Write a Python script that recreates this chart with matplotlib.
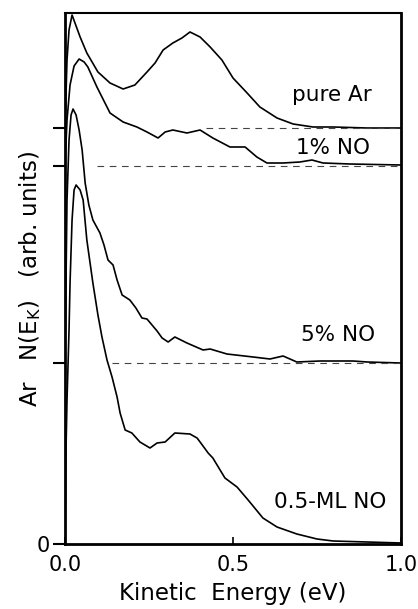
import numpy as np
import matplotlib
matplotlib.use("Agg")
import matplotlib.pyplot as plt

# ---- data (kinetic energy in eV, intensity above each curve's baseline, arb. units) ----
pure_ar_x = [0.0, 0.006, 0.012, 0.021, 0.045, 0.065, 0.098, 0.134, 0.173, 0.208, 0.244, 0.268,
             0.292, 0.321, 0.348, 0.372, 0.402, 0.432, 0.467, 0.5, 0.542, 0.58, 0.631, 0.679,
             0.738, 0.798, 0.899, 1.0]
pure_ar_y = [0, 68, 98, 113, 91, 75, 56, 45, 39, 43, 56, 65,
             78, 85, 90, 96, 91, 81, 68, 50, 35, 21, 10, 4,
             1, 1, 0, 0]

no1_x = [0.0, 0.006, 0.015, 0.027, 0.042, 0.057, 0.068, 0.095, 0.134, 0.173, 0.214, 0.244,
         0.277, 0.298, 0.321, 0.363, 0.402, 0.44, 0.491, 0.536, 0.571, 0.601, 0.649, 0.699,
         0.735, 0.768, 0.848, 1.0]
no1_y = [0, 46, 81, 100, 107, 104, 99, 79, 53, 44, 39, 34,
         28, 34, 36, 33, 36, 28, 19, 19, 9, 3, 3, 4,
         6, 3, 2, 1]

no5_x = [0.0, 0.006, 0.012, 0.018, 0.024, 0.033, 0.042, 0.051, 0.06, 0.071, 0.083, 0.104,
         0.116, 0.128, 0.143, 0.155, 0.17, 0.193, 0.211, 0.229, 0.244, 0.259, 0.274, 0.289,
         0.307, 0.327, 0.363, 0.411, 0.432, 0.482, 0.56, 0.61, 0.649, 0.69, 0.759, 0.857,
         0.899, 1.0]
no5_y = [0, 163, 223, 248, 254, 248, 233, 213, 180, 158, 143, 130,
         118, 103, 98, 83, 68, 63, 55, 45, 44, 38, 32, 25,
         21, 26, 20, 13, 14, 9, 6, 4, 7, 1, 2, 2,
         1, 0]

ml_x = [0.0, 0.003, 0.006, 0.012, 0.015, 0.021, 0.027, 0.033, 0.045, 0.054, 0.065, 0.083,
        0.098, 0.11, 0.125, 0.14, 0.155, 0.164, 0.179, 0.199, 0.223, 0.253, 0.274, 0.298,
        0.327, 0.372, 0.393, 0.402, 0.426, 0.44, 0.476, 0.512, 0.545, 0.589, 0.631, 0.69,
        0.75, 0.798, 0.899, 1.0]
ml_y = [0, 94, 144, 214, 261, 324, 354, 359, 354, 344, 304, 261,
        229, 207, 184, 167, 147, 131, 114, 111, 102, 96, 101, 102,
        111, 110, 106, 102, 91, 86, 66, 57, 44, 26, 17, 10,
        5, 3, 2, 1]

labels = ["pure Ar", "1% NO", "5% NO", "0.5-ML NO"]
offsets = [416, 378, 181, 0]
dash_start = [0.42, 0.095, 0.14, None]

curves = [(pure_ar_x, pure_ar_y), (no1_x, no1_y), (no5_x, no5_y), (ml_x, ml_y)]

# ---- figure ----
fig = plt.figure(figsize=(4.18, 6.09), dpi=100)
ax = fig.add_axes([65 / 418, 1 - 544 / 609, (401 - 65) / 418, (544 - 13) / 609])

for (x, y), off, ds in zip(curves, offsets, dash_start):
    ax.plot(x, np.array(y) + off, color="black", lw=1.2, solid_joinstyle="round")
    if ds is not None:
        ax.plot([ds, 1.0], [off, off], color="#444444", lw=0.8, dashes=(6, 5))

label_pos = [(0.795, 449), (0.798, 396), (0.813, 209), (0.789, 42)]
for lab, (tx, ty) in zip(labels, label_pos):
    ax.text(tx, ty, lab, ha="center", va="center", fontsize=15.5)

ax.set_xlim(0, 1.0)
ax.set_ylim(0, 531)
ax.set_xticks([0.0, 0.5, 1.0])
ax.set_xticklabels(["0.0", "0.5", "1.0"], fontsize=15)
ax.set_yticks(offsets)
ax.set_yticklabels(["", "", "", "0"], fontsize=15)
ax.tick_params(axis="x", length=5, width=1.2, direction="in", pad=8)
ax.tick_params(axis="y", length=9, width=1.5, direction="out", pad=2)

for side, w in [("left", 2.0), ("bottom", 2.0), ("right", 2.0), ("top", 1.5)]:
    ax.spines[side].set_linewidth(w)

ax.set_xlabel("Kinetic  Energy (eV)", fontsize=16.5, labelpad=5)
ax.set_ylabel(r"Ar   N(E$_{\mathrm{K}}$)   (arb. units)", fontsize=16.5, labelpad=-5)

fig.savefig("out.png", dpi=100)
